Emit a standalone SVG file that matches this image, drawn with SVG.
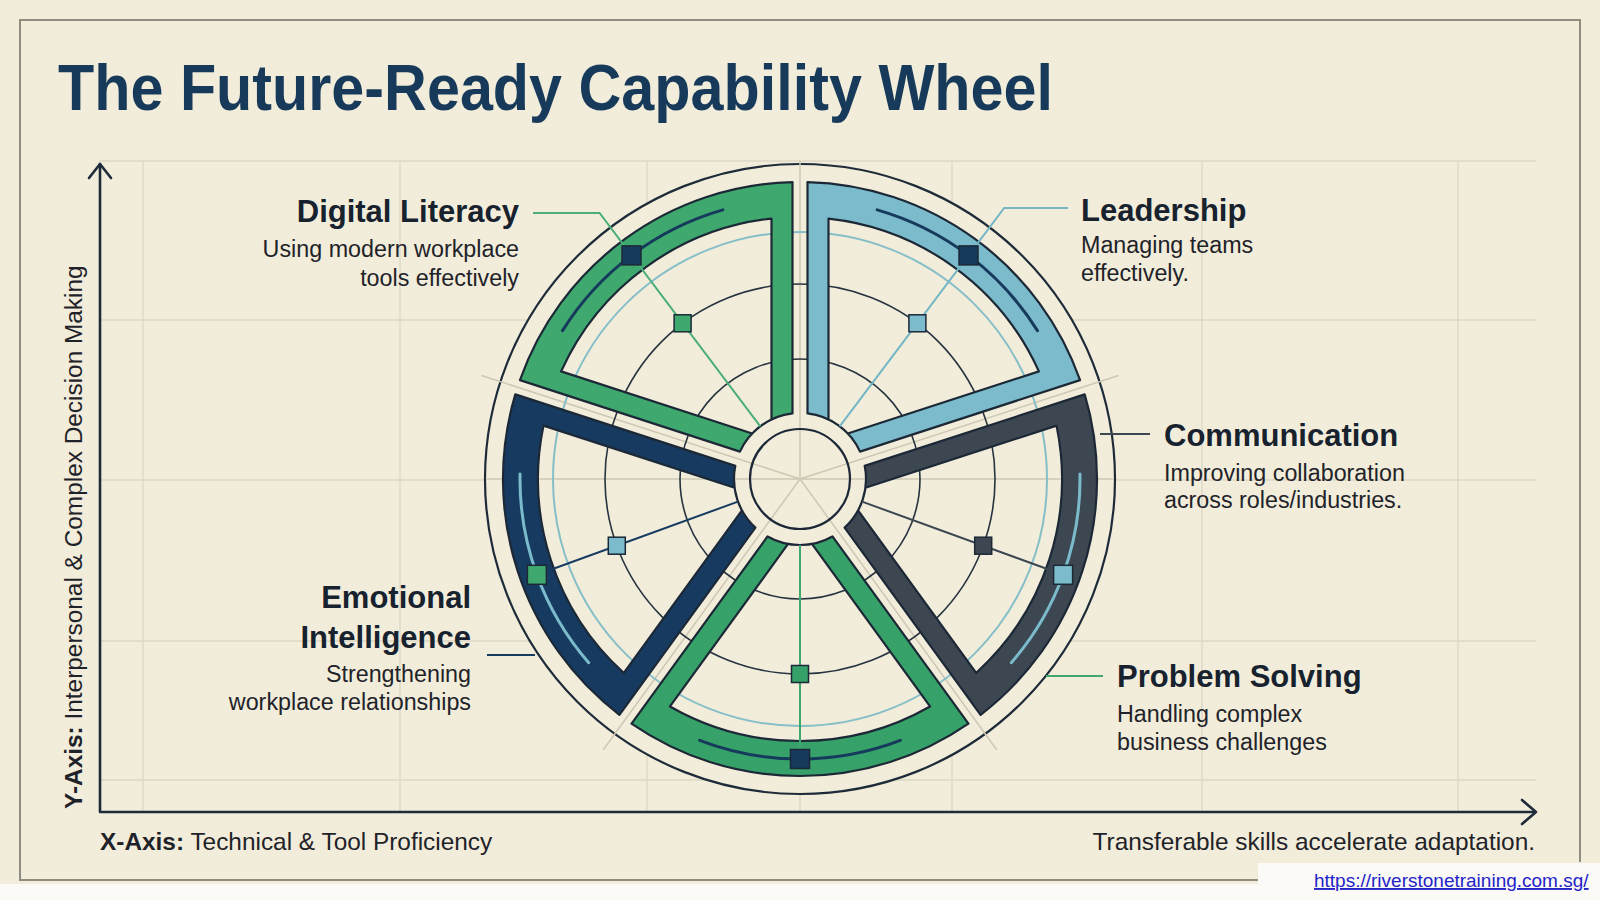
<svg xmlns="http://www.w3.org/2000/svg" xmlns:xlink="http://www.w3.org/1999/xlink" width="1600" height="900" viewBox="0 0 1600 900">
<style>
.grid{stroke:#dcd7c5;stroke-width:1.3;fill:none}
.ax{stroke:#1e2b38;stroke-width:2.6;fill:none;stroke-linecap:round;stroke-linejoin:round}
.ring{fill:none;stroke:#27333f;stroke-width:1.6}
.seg{stroke:#1c2836;stroke-width:2.2;fill-rule:evenodd;stroke-linejoin:round}
.sq{stroke:#1c2836;stroke-width:1.5}
.acc{fill:none;stroke-width:3;stroke-linecap:round}
.ln{fill:none;stroke-width:2}
.spoke{stroke:#cdc7b3;stroke-width:1.5}
.h{font-family:"Liberation Sans",Arial,sans-serif;font-weight:bold;font-size:31px;fill:#17222e}
.b{font-family:"Liberation Sans",Arial,sans-serif;font-size:23.3px;fill:#1f2329}
.axl{font-family:"Liberation Sans",Arial,sans-serif;font-size:24.4px;fill:#1f2329}
</style>
<defs>
<path id="segshape" d="M1080.07 380.11A297 297 0 0 0 807.5 182.1L807.5 413.43A66 66 0 0 1 860.05 451.6ZM1038.89 371.41A262 262 0 0 0 828.5 218.55L828.5 419.47A66 66 0 0 1 847.81 433.5Z"/>
</defs>
<rect x="0" y="0" width="1600" height="900" fill="#f2eddb"/>
<rect x="0" y="884" width="1258" height="16" fill="#fbfaf6"/>
<rect x="1258" y="863" width="342" height="37" fill="#fbfaf6"/>
<path d="M1258 880H20V20H1580V862" fill="none" stroke="#8f8c82" stroke-width="2"/>

<g id="grid">
<path class="grid" d="M143 161V812M400 161V812M647 161V812M800 161V812M952 161V812M1202 161V812M1458 161V812M100 161H1536M100 320H1536M100 480H1536M100 641H1536M100 780H1536"/>
</g>

<g id="axes">
<path class="ax" d="M100 164V812H1535"/>
<path class="ax" d="M89 178L100 164L111 178"/>
<path class="ax" d="M1522 800L1536 812L1522 824"/>
<text class="axl" transform="translate(82 809) rotate(-90)"><tspan font-weight="bold">Y-Axis:</tspan> Interpersonal &amp; Complex Decision Making</text>
<text class="axl" x="100" y="850"><tspan font-weight="bold">X-Axis:</tspan> Technical &amp; Tool Proficiency</text>
<text class="axl" x="1535" y="850" text-anchor="end" font-size="25">Transferable skills accelerate adaptation.</text>
</g>

<text x="58" y="110" font-family="'Liberation Sans',Arial,sans-serif" font-weight="bold" font-size="65" fill="#173a5a" textLength="995" lengthAdjust="spacingAndGlyphs">The Future-Ready Capability Wheel</text>

<g id="wheel">
<circle cx="800" cy="479" r="315" fill="#f2eddb" stroke="#1e2b38" stroke-width="2.2"/>
<path class="spoke" d="M486 479H1114M800 479V161M800 479L1118.6 375.5M800 479L996.9 750M800 479L603.1 750M800 479L481.4 375.5"/>
<circle class="ring" cx="800" cy="479" r="120"/>
<circle class="ring" cx="800" cy="479" r="195"/>
<circle cx="800" cy="479" r="247" fill="none" stroke="#86bfc7" stroke-width="2"/>
</g>

<g id="leadership">
<use xlink:href="#segshape" class="seg" fill="#7bbbcb"/>
<path class="acc" stroke="#163a5c" d="M1037.45 330.62A280 280 0 0 0 877.18 209.85"/>
<path class="ln" stroke="#74b6c6" d="M839.7 426.3L1004.2 208H1068"/>
<rect class="sq" x="908.9" y="314.8" width="17" height="17" fill="#7bbbcb"/>
<rect class="sq" x="959" y="245.9" width="19" height="19" fill="#163a5c"/>
<text class="h" x="1081" y="221">Leadership</text>
<text class="b" x="1081" y="253">Managing teams</text>
<text class="b" x="1081" y="281">effectively.</text>
</g>

<g id="digital-literacy">
<use xlink:href="#segshape" class="seg" fill="#3ea86f" transform="rotate(-72 800 479)"/>
<path class="acc" stroke="#163a5c" d="M722.82 209.85A280 280 0 0 0 562.55 330.62"/>
<path class="ln" stroke="#4cae7a" d="M760.3 426.3L599.6 213H533"/>
<rect class="sq" x="674.1" y="314.8" width="17" height="17" fill="#3ea86f"/>
<rect class="sq" x="622" y="245.9" width="19" height="19" fill="#163a5c"/>
<text class="h" x="519" y="222" text-anchor="end">Digital Literacy</text>
<text class="b" x="519" y="257" text-anchor="end">Using modern workplace</text>
<text class="b" x="519" y="286" text-anchor="end">tools effectively</text>
</g>

<g id="emotional-intelligence">
<use xlink:href="#segshape" class="seg" fill="#173b60" transform="rotate(-144 800 479)"/>
<path class="acc" stroke="#7bbbcb" d="M520.04 474.11A280 280 0 0 0 588.68 662.7"/>
<path class="ln" stroke="#173b60" d="M738 501.6L536.9 574.8"/>
<path class="ln" stroke="#173b60" d="M535 655H487"/>
<rect class="sq" x="608.3" y="537.2" width="17" height="17" fill="#7bbbcb"/>
<rect class="sq" x="527.4" y="565.3" width="19" height="19" fill="#3ea86f"/>
<text class="h" x="471" y="608" text-anchor="end">Emotional</text>
<text class="h" x="471" y="648" text-anchor="end">Intelligence</text>
<text class="b" x="471" y="682" text-anchor="end">Strengthening</text>
<text class="b" x="471" y="710" text-anchor="end">workplace relationships</text>
</g>

<g id="problem-solving">
<use xlink:href="#segshape" class="seg" fill="#36a169" transform="rotate(-216 800 479)"/>
<path class="acc" stroke="#163a5c" d="M699.66 740.4A280 280 0 0 0 900.34 740.4"/>
<path class="ln" stroke="#3ea86f" d="M800 545V759"/>
<path class="ln" stroke="#3ea86f" d="M1046 676H1103"/>
<rect class="sq" x="791.5" y="665.5" width="17" height="17" fill="#36a169"/>
<rect class="sq" x="790.5" y="749.5" width="19" height="19" fill="#163a5c"/>
<text class="h" x="1117" y="687">Problem Solving</text>
<text class="b" x="1117" y="722">Handling complex</text>
<text class="b" x="1117" y="750">business challenges</text>
</g>

<g id="communication">
<use xlink:href="#segshape" class="seg" fill="#3c4752" transform="rotate(72 800 479)"/>
<path class="acc" stroke="#7bbbcb" d="M1011.32 662.7A280 280 0 0 0 1079.96 474.11"/>
<path class="ln" stroke="#3c4752" d="M862 501.6L1063.1 574.8"/>
<path class="ln" stroke="#3c4752" d="M1100 434H1150"/>
<rect class="sq" x="974.7" y="537.2" width="17" height="17" fill="#3c4752"/>
<rect class="sq" x="1053.6" y="565.3" width="19" height="19" fill="#7bbbcb"/>
<text class="h" x="1164" y="446">Communication</text>
<text class="b" x="1164" y="481">Improving collaboration</text>
<text class="b" x="1164" y="508">across roles/industries.</text>
</g>

<g id="hub">
<circle cx="800" cy="479" r="50" fill="none" stroke="#1c2836" stroke-width="2.2"/>
</g>

<text x="1314" y="887" font-family="'Liberation Sans',Arial,sans-serif" font-size="19" fill="#2323c8" text-decoration="underline">https://riverstonetraining.com.sg/</text>
</svg>
